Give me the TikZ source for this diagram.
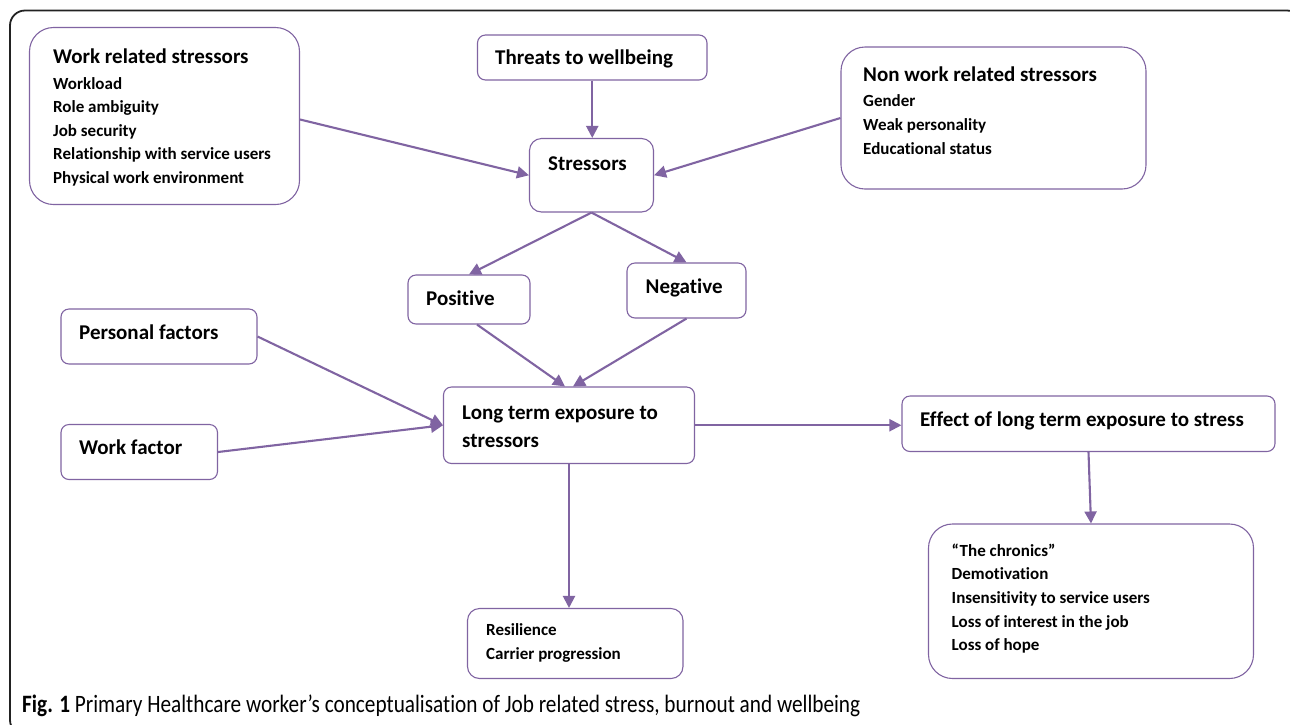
\documentclass[tikz,border=0pt]{standalone}
\usepackage{fontspec}
\setmainfont{Carlito}[RawFeature={-liga}]
\usetikzlibrary{arrows.meta,calc,fit}
\definecolor{purp}{HTML}{8064A2}
\definecolor{frame}{HTML}{222222}
\begin{document}
\begin{tikzpicture}[x=1pt,y=-1pt,
  box/.style={draw=purp, line width=1.1pt, rounded corners=#1, inner sep=0pt},
  box/.default=8pt,
  conn/.style={draw=purp, line width=2.1pt, -{Triangle[length=12pt,width=12pt]}},
  big/.style={anchor=base west, inner sep=0pt, font=\fontsize{21}{25}\selectfont\bfseries},
  small/.style={anchor=base west, inner sep=0pt, font=\fontsize{17}{20}\selectfont\bfseries}]
\useasboundingbox (0,0) rectangle (1290,724);
\clip (0,0) rectangle (1290,724);
\fill[white] (0,0) rectangle (1290,724);
\draw[frame, line width=1.8pt, rounded corners=15pt] (10,10.5) rectangle (1302,735);

% boxes
\node[box=24pt, fit={(29.5,27.5) (299.5,204.5)}] (wrs) {};
\node[box, fit={(477.5,35) (707,80)}] (thr) {};
\node[box=12pt, fit={(529.5,138.5) (653.5,212)}] (str) {};
\node[box=24pt, fit={(841,47) (1146,189)}] (nw) {};
\node[box, fit={(408,275) (530,324)}] (pos) {};
\node[box, fit={(627,263) (746,318)}] (neg) {};
\node[box, fit={(61,309) (257,364)}] (pers) {};
\node[box, fit={(61,424.5) (217.5,479.5)}] (wf) {};
\node[box, fit={(443.5,387) (694.5,463.5)}] (lt) {};
\node[box, fit={(902,396) (1275,451.5)}] (eff) {};
\node[box=12pt, fit={(467.5,608.5) (683,678.5)}] (res) {};
\node[box=24pt, fit={(928.5,524) (1253.5,678.5)}] (chr) {};

% texts
\node[big] (wrsT) at (53,63.5) {Work related stressors};
\node[small] (wrs1) at (53,89) {Workload};
\node[small] (wrs2) at (53,112.5) {Role ambiguity};
\node[small] (wrs3) at (53,136) {Job security};
\node[small] (wrs4) at (53,159.8) {Relationship with service users};
\node[small] (wrs5) at (53,183.4) {Physical work environment};

\node[big] (thrT) at (495,64.5) {Threats to wellbeing};
\node[big] (strT) at (548,170) {Stressors};

\node[big] (nwT) at (863,81.7) {Non work related stressors};
\node[small] (nw1) at (863,106.5) {Gender};
\node[small] (nw2) at (863,130.5) {Weak personality};
\node[small] (nw3) at (863,154) {Educational status};

\node[big] (posT) at (426,305) {Positive};
\node[big] (negT) at (645.5,293.3) {Negative};
\node[big] (persT) at (79,339.3) {Personal factors};
\node[big] (wfT) at (79,454.3) {Work factor};
\node[big] (lt1) at (462,419) {Long term exposure to};
\node[big] (lt2) at (462,447.5) {stressors};
\node[big] (effT) at (920,426.7) {Effect of long term exposure to stress};

\node[small] (res1) at (486,635.5) {Resilience};
\node[small] (res2) at (486,659) {Carrier progression};

\node[small] (chr1) at (951.5,556) {“The chronics”};
\node[small] (chr2) at (951.5,579.5) {Demotivation};
\node[small] (chr3) at (951.5,603.3) {Insensitivity to service users};
\node[small] (chr4) at (951.5,627) {Loss of interest in the job};
\node[small] (chr5) at (951.5,650.5) {Loss of hope};

% connectors
\draw[conn] ($(wrs.east)+(0,3.5)$) -- (str.west);
\draw[conn] (thr.south) -- (thr.south |- str.north);
\draw[conn] (nw.west) -- (str.east);
\draw[conn] (str.south) -- (pos.north);
\draw[conn] (str.south) -- (neg.north);
\draw[conn] ($(pos.south)+(8,0)$) -- ($(lt.north)+(-4,0)$);
\draw[conn] (neg.south) -- ($(lt.north)+(4,0)$);
\draw[conn] (pers.east) -- (lt.west);
\draw[conn] (wf.east) -- (lt.west);
\draw[conn] (lt.east) -- (lt.east -| eff.west);
\draw[conn] (eff.south) -- (chr.north);
\draw[conn] (lt.south) -- (lt.south |- res.north);

% caption
\node[anchor=base west, inner sep=0pt] (cap) at (22,712) {\resizebox{838pt}{\height}{\fontsize{25}{30}\selectfont\textbf{Fig. 1} Primary Healthcare worker’s conceptualisation of Job related stress, burnout and wellbeing}};
\end{tikzpicture}
\end{document}
